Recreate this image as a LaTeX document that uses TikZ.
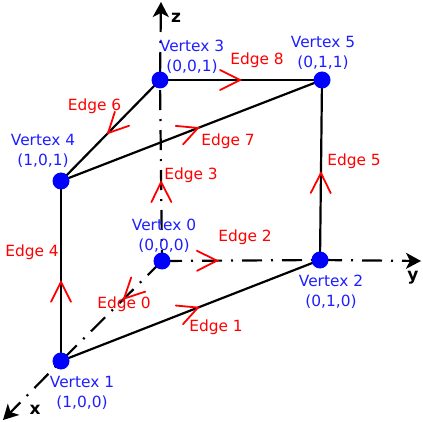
\documentclass[tikz,border=0pt]{standalone}
\usepackage{fontspec}
\setmainfont{DejaVu Sans}
\usetikzlibrary{arrows.meta,decorations.markings,backgrounds}
\definecolor{labelblue}{RGB}{30,30,255}
\tikzset{
  vertexdot/.style={circle,fill=blue,inner sep=0pt,minimum size=17pt},
  vertexlabel/.style={text=labelblue,font=\fontsize{15.4}{20}\selectfont,align=center,inner sep=0pt},
  edgelabel/.style={text=red,font=\fontsize{15.4}{20}\selectfont,inner sep=0pt},
  axislabel/.style={text=black,font=\fontsize{17}{18}\selectfont\bfseries,inner sep=0pt},
  solidedge/.style={draw=black,line width=2.2pt},
  dashdot/.style={draw=black,line width=2.2pt,dash pattern=on 20pt off 9pt on 2pt off 9pt,dash phase=#1},
  axisline/.style={dashdot=#1,-{Stealth[length=15pt,width=16pt,inset=4pt]}},
  chev/.style={postaction={decorate},decoration={markings,mark=at position #1 with {
    \draw[red,line width=1.8pt,line cap=round,line join=miter,solid] (-20pt,10pt)--(0pt,0pt)--(-20pt,-10pt);}}}
}
\begin{document}
\begin{tikzpicture}[x=1pt,y=-1pt]
\useasboundingbox (0,0) rectangle (423,422);
% vertices
\node[vertexdot] (v0) at (162,261) {};
\node[vertexdot] (v1) at (61,361) {};
\node[vertexdot] (v2) at (320,260) {};
\node[vertexdot] (v3) at (160,80) {};
\node[vertexdot] (v4) at (61,181) {};
\node[vertexdot] (v5) at (322,80) {};
\coordinate (xend) at (3,420);
\coordinate (yend) at (421,261);
\coordinate (zend) at (161,2);
\begin{scope}[on background layer]
% axes beyond the cube
\draw[axisline=22] (v1.center) -- (xend);
\draw[axisline=38] (v2.center) -- (yend);
\draw[axisline=32] (v3.center) -- (zend);
% dash-dotted edges
\draw[dashdot=0,chev=0.376] (v0.center) -- (v1.center);
\draw[dashdot=0,chev=0.348] (v0.center) -- (v2.center);
\draw[dashdot=9,chev=0.436] (v0.center) -- (v3.center);
% solid edges
\draw[solidedge,chev=0.529] (v1.center) -- (v2.center);
\draw[solidedge,chev=0.44] (v1.center) -- (v4.center);
\draw[solidedge,chev=0.483] (v2.center) -- (v5.center);
\draw[solidedge,chev=0.525] (v3.center) -- (v4.center);
\draw[solidedge,chev=0.525] (v4.center) -- (v5.center);
\draw[solidedge,chev=0.494] (v3.center) -- (v5.center);
\end{scope}
% vertex labels
\node[vertexlabel] (l0) at (164,236) {Vertex 0\\(0,0,0)};
\node[vertexlabel] (l1) at (82,393) {Vertex 1\\(1,0,0)};
\node[vertexlabel] (l2) at (331,292) {Vertex 2\\(0,1,0)};
\node[vertexlabel] (l3) at (192,57) {Vertex 3\\(0,0,1)};
\node[vertexlabel] (l4) at (43,151) {Vertex 4\\(1,0,1)};
\node[vertexlabel] (l5) at (323,53) {Vertex 5\\(0,1,1)};
% edge labels
\node[edgelabel] (e0) at (124,304) {Edge 0};
\node[edgelabel] (e1) at (216,327) {Edge 1};
\node[edgelabel] (e2) at (245,237) {Edge 2};
\node[edgelabel] (e3) at (191,175) {Edge 3};
\node[edgelabel] (e4) at (32,252) {Edge 4};
\node[edgelabel] (e5) at (354,161) {Edge 5};
\node[edgelabel] (e6) at (94.5,106) {Edge 6};
\node[edgelabel] (e7) at (228,141) {Edge 7};
\node[edgelabel] (e8) at (257,60) {Edge 8};
% axis labels
\node[axislabel] (ax) at (35,410) {x};
\node[axislabel] (ay) at (413,278) {y};
\node[axislabel] (az) at (176,18) {z};
\end{tikzpicture}
\end{document}
